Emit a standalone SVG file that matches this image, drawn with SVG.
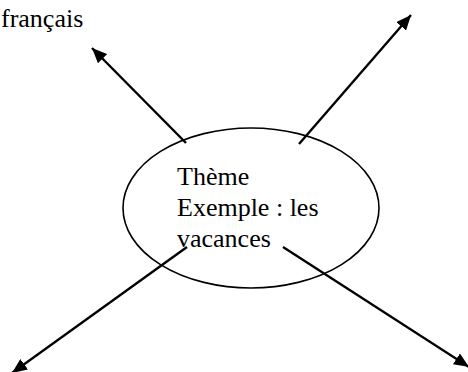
<svg xmlns="http://www.w3.org/2000/svg" width="468" height="372" viewBox="0 0 468 372">
<defs>
<style>
.t{font-family:"Liberation Serif","Times New Roman",serif;font-size:26px;fill:#000}
.c{stroke:#000;stroke-width:2.4;fill:none;marker-end:url(#ah)}
</style>
<marker id="ah" markerUnits="userSpaceOnUse" markerWidth="16" markerHeight="13" refX="15" refY="6.5" orient="auto">
<path d="M0,0 L15,6.5 L0,13 z" fill="#000"/>
</marker>
</defs>
<rect width="468" height="372" fill="#fff"/>
<g id="label-francais"><text class="t" x="1" y="27">français</text></g>
<g id="theme">
<ellipse cx="251" cy="208" rx="128" ry="80" fill="none" stroke="#000" stroke-width="1.6"/>
<text class="t" x="177" y="185">Thème</text>
<text class="t" x="177" y="216">Exemple : les</text>
<text class="t" x="177" y="247">vacances</text>
</g>
<g id="connectors">
<line class="c" x1="186" y1="143" x2="92" y2="48"/>
<line class="c" x1="299" y1="144" x2="411" y2="15"/>
<line class="c" x1="187" y1="247" x2="12" y2="373"/>
<line class="c" x1="283" y1="247" x2="469" y2="367"/>
</g>
</svg>
